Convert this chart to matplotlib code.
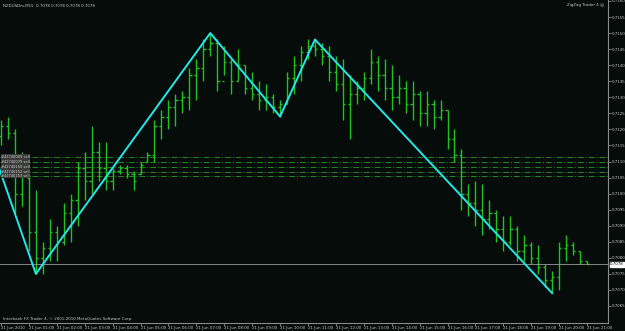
import matplotlib
matplotlib.use("Agg")
import matplotlib.pyplot as plt

# ---------------- data ----------------
hours = ["21 Jun 2010"] + ["21 Jun %02d:00" % h for h in range(1, 22)]

opens = [0.7118, 0.7121, 0.7119, 0.7100, 0.7105, 0.7088, 0.7080, 0.7083, 0.7088, 0.7085,
         0.7094, 0.7098, 0.7108, 0.7104, 0.7113, 0.7108, 0.7104, 0.7107, 0.7108, 0.7106,
         0.7106, 0.7110, 0.7112, 0.7121, 0.7124, 0.7127, 0.7129, 0.7130, 0.7137, 0.7139,
         0.7145, 0.7147, 0.7135, 0.7141, 0.7135, 0.7140, 0.7133, 0.7131, 0.7129, 0.7130,
         0.7127, 0.7128, 0.7136, 0.7140, 0.7144, 0.7146, 0.7145, 0.7143, 0.7138, 0.7134,
         0.7128, 0.7131, 0.7133, 0.7136, 0.7141, 0.7137, 0.7133, 0.7130, 0.7133, 0.7128,
         0.7131, 0.7125, 0.7128, 0.7124, 0.7126, 0.7117, 0.7112, 0.7100, 0.7097, 0.7095,
         0.7092, 0.7094, 0.7089, 0.7085, 0.7089, 0.7082, 0.7084, 0.7080, 0.7077, 0.7073,
         0.7074, 0.7083, 0.7084, 0.7082, 0.7079]
highs = [0.7123, 0.7124, 0.7120, 0.7113, 0.7106, 0.7101, 0.7085, 0.7092, 0.7090, 0.7097,
         0.7100, 0.7110, 0.7113, 0.7121, 0.7116, 0.7116, 0.7108, 0.7109, 0.7109, 0.7107,
         0.7110, 0.7113, 0.7123, 0.7126, 0.7129, 0.7131, 0.7132, 0.7139, 0.7142, 0.7148,
         0.7150, 0.7148, 0.7146, 0.7142, 0.7145, 0.7140, 0.7138, 0.7135, 0.7134, 0.7131,
         0.7129, 0.7138, 0.7143, 0.7146, 0.7148, 0.7148, 0.7147, 0.7146, 0.7143, 0.7142,
         0.7137, 0.7135, 0.7138, 0.7145, 0.7143, 0.7142, 0.7140, 0.7137, 0.7135, 0.7135,
         0.7132, 0.7132, 0.7129, 0.7129, 0.7126, 0.7120, 0.7114, 0.7103, 0.7104, 0.7103,
         0.7098, 0.7095, 0.7093, 0.7093, 0.7090, 0.7087, 0.7085, 0.7084, 0.7078, 0.7076,
         0.7085, 0.7087, 0.7085, 0.7082, 0.7079]
lows = [0.7115, 0.7117, 0.7094, 0.7096, 0.7082, 0.7075, 0.7075, 0.7079, 0.7079, 0.7084,
        0.7085, 0.7090, 0.7098, 0.7100, 0.7104, 0.7101, 0.7101, 0.7106, 0.7105, 0.7101,
        0.7106, 0.7110, 0.7110, 0.7117, 0.7120, 0.7121, 0.7125, 0.7126, 0.7129, 0.7135,
        0.7143, 0.7132, 0.7137, 0.7131, 0.7135, 0.7131, 0.7129, 0.7126, 0.7126, 0.7125,
        0.7124, 0.7128, 0.7131, 0.7135, 0.7142, 0.7143, 0.7140, 0.7135, 0.7132, 0.7123,
        0.7117, 0.7128, 0.7129, 0.7134, 0.7132, 0.7129, 0.7126, 0.7128, 0.7125, 0.7123,
        0.7121, 0.7121, 0.7120, 0.7123, 0.7114, 0.7110, 0.7095, 0.7093, 0.7090, 0.7087,
        0.7089, 0.7085, 0.7082, 0.7084, 0.7079, 0.7079, 0.7078, 0.7075, 0.7071, 0.7069,
        0.7070, 0.7079, 0.7081, 0.7078, 0.7078]
closes = [0.7121, 0.7119, 0.7100, 0.7108, 0.7088, 0.7080, 0.7083, 0.7088, 0.7085, 0.7094,
          0.7098, 0.7108, 0.7104, 0.7113, 0.7108, 0.7104, 0.7107, 0.7108, 0.7106, 0.7104,
          0.7109, 0.7112, 0.7121, 0.7124, 0.7127, 0.7129, 0.7130, 0.7137, 0.7139, 0.7145,
          0.7147, 0.7135, 0.7141, 0.7135, 0.7140, 0.7133, 0.7131, 0.7129, 0.7130, 0.7127,
          0.7128, 0.7136, 0.7140, 0.7144, 0.7146, 0.7145, 0.7143, 0.7138, 0.7134, 0.7128,
          0.7131, 0.7133, 0.7136, 0.7141, 0.7137, 0.7133, 0.7130, 0.7133, 0.7128, 0.7131,
          0.7125, 0.7128, 0.7124, 0.7126, 0.7117, 0.7112, 0.7100, 0.7097, 0.7095, 0.7092,
          0.7094, 0.7089, 0.7085, 0.7089, 0.7082, 0.7084, 0.7080, 0.7077, 0.7073, 0.7074,
          0.7083, 0.7084, 0.7082, 0.7079, 0.7078]

zigzag_idx = [-3, 5, 30, 40, 45, 79]
zigzag_price = [0.7125, 0.7075, 0.7150, 0.7124, 0.7148, 0.7069]

order_levels = [0.71115, 0.71099, 0.71084, 0.71068, 0.71056]
order_labels = ["#42740009 sell", "#42740079 sell", "#42740150 sell",
                "#42740152 sell", "#42740153 sell"]

current_price = 0.7078
ytick_vals = [0.7065 + 0.0005 * k for k in range(20)]

# ---------------- styling ----------------
BG = "#050c0a"
BAR = "#22c022"
ZZ = "#22e8e8"
AXC = "#8a8a8a"
TXT = "#c8c8c8"
FS = 2.9

fig = plt.figure(figsize=(6.25, 3.31), dpi=100, facecolor=BG)
ax = fig.add_axes([0, 8 / 331, 608 / 625, 323 / 331])
ax.set_facecolor(BG)

n = len(opens)
xs = list(range(n))
ax.vlines(xs, lows, highs, color=BAR, lw=1.0)
ax.hlines(opens, [x - 0.32 for x in xs], xs, color=BAR, lw=1.0)
ax.hlines(closes, xs, [x + 0.32 for x in xs], color=BAR, lw=1.0)

ax.plot(zigzag_idx, zigzag_price, color=ZZ, lw=1.4, zorder=5)

for lvl in order_levels:
    ax.axhline(lvl, color="#1f8a1f", lw=0.7, ls=(0, (6, 2, 1, 2)), zorder=1)

ax.axhline(current_price, color="#9a9a9a", lw=0.6, zorder=2)

ax.set_xlim(-0.14, 87.0)
ax.set_ylim(0.70597, 0.71603)

for s in ["top", "left"]:
    ax.spines[s].set_visible(False)
for s in ["right", "bottom"]:
    ax.spines[s].set_color(AXC)
    ax.spines[s].set_linewidth(0.8)

ax.yaxis.tick_right()
ax.set_yticks(ytick_vals)
ax.set_yticklabels(["%.4f" % v for v in ytick_vals])
ax.tick_params(axis="y", colors=AXC, labelcolor=TXT, labelsize=FS, length=2, width=0.6, pad=0.5)

ax.set_xticks(list(range(0, n, 4)))
ax.set_xticklabels(hours, ha="left")
ax.tick_params(axis="x", colors=AXC, labelcolor=TXT, labelsize=FS, length=2, width=0.6, pad=0.5)

# current price label
ax.annotate("%.4f" % current_price, xy=(1.0, current_price), xycoords=("axes fraction", "data"),
            xytext=(1.5, 0), textcoords="offset points", ha="left", va="center",
            fontsize=FS, color="black",
            bbox=dict(boxstyle="square,pad=0.12", fc="white", ec="white"))

# order labels
for lvl, lab in zip(order_levels, order_labels):
    ax.text(0.0, lvl, lab, fontsize=2.6, color="#d0d0d0", ha="left", va="center",
            bbox=dict(boxstyle="square,pad=0.1", fc="#3a3a3a", ec="none"), zorder=6)

fig.text(3 / 625, 1 - 6 / 331, "NZDUSDm,M15  0.7078 0.7078 0.7078 0.7078",
         fontsize=FS, color=TXT, ha="left", va="center")
fig.text(604 / 625, 1 - 5 / 331, "ZigZag Trader 4 \u263a",
         fontsize=FS, color=TXT, ha="right", va="center")
fig.text(3 / 625, 1 - 319 / 331, "Interbank FX Trader 4, \u00a9 2001-2010 MetaQuotes Software Corp.",
         fontsize=FS, color=TXT, ha="left", va="center")

fig.savefig("out.png", dpi=100, facecolor=BG)
